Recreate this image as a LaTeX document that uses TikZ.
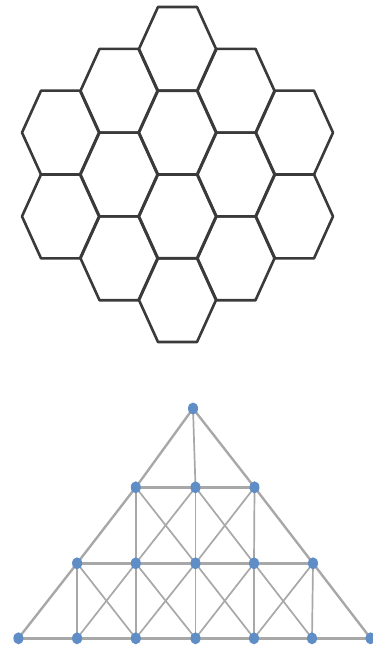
\documentclass[tikz,border=0pt]{standalone}
\usepackage{tikz}
\usetikzlibrary{shapes.geometric}
\definecolor{hexline}{HTML}{3A3A3A}
\definecolor{vblue}{HTML}{5F8DC6}
\definecolor{eline}{HTML}{A8A8A8}
\tikzset{
  hexcell/.style={draw=hexline, line width=2.6pt, line join=round},
  vtx/.style={ellipse, fill=vblue, inner sep=0pt, minimum width=10pt, minimum height=12pt, draw=none},
  gedge/.style={draw=eline, line width=2.4pt},
  gthin/.style={draw=eline, line width=1.7pt}
}
\newcommand{\hexat}[2]{%
  \draw[hexcell] (#1-38.5,#2) -- (#1-19.5,#2-41.9) -- (#1+19.5,#2-41.9) -- (#1+38.5,#2) -- (#1+19.5,#2+41.9) -- (#1-19.5,#2+41.9) -- cycle;}
\begin{document}
\begin{tikzpicture}[x=1pt,y=-1pt]
\useasboundingbox (0,0) rectangle (372,652);
% hexagon cluster
\foreach \yy in {132.6,216.4} {\hexat{60.5}{\yy}}
\foreach \yy in {90.8,174.5,258.3} {\hexat{119}{\yy}}
\foreach \yy in {48.9,132.6,216.4,300.1} {\hexat{177.5}{\yy}}
\foreach \yy in {90.8,174.5,258.3} {\hexat{236}{\yy}}
\foreach \yy in {132.6,216.4} {\hexat{294.5}{\yy}}
% graph node positions
\coordinate (t) at (193,408.5);
\coordinate (b1) at (135.8,487.3);
\coordinate (b2) at (195.5,487.3);
\coordinate (b3) at (254.5,487.3);
\coordinate (c1) at (77.1,563.3);
\coordinate (c2) at (135.8,563.3);
\coordinate (c3) at (195.5,563.3);
\coordinate (c4) at (254,563.3);
\coordinate (c5) at (313,563.3);
\coordinate (d1) at (18.4,638.3);
\coordinate (d2) at (77.1,638.3);
\coordinate (d3) at (135.8,638.3);
\coordinate (d4) at (195.5,638.3);
\coordinate (d5) at (254,638.3);
\coordinate (d6) at (312,638.3);
\coordinate (d7) at (370.6,638.3);
% edges
\path[gedge] (t) -- (b1) -- (c1) -- (d1);
\path[gedge] (t) -- (b3) -- (c5) -- (d7);
\path[gedge] (b1) -- (b2) -- (b3);
\path[gedge] (c1) -- (c2) -- (c3) -- (c4) -- (c5);
\path[gedge] (d1) -- (d2) -- (d3) -- (d4) -- (d5) -- (d6) -- (d7);
\path[gthin] (t) -- (b2);
\path[gthin] (b1) -- (c2);
\path[gthin] (b2) -- (c3);
\path[gthin] (b3) -- (c4);
\path[gthin] (b1) -- (c3);
\path[gthin] (b2) -- (c2);
\path[gthin] (b2) -- (c4);
\path[gthin] (b3) -- (c3);
\path[gthin] (c1) -- (d2);
\path[gthin] (c2) -- (d3);
\path[gthin] (c3) -- (d4);
\path[gthin] (c4) -- (d5);
\path[gthin] (c5) -- (d6);
\path[gthin] (c1) -- (d3);
\path[gthin] (c2) -- (d2);
\path[gthin] (c2) -- (d4);
\path[gthin] (c3) -- (d3);
\path[gthin] (c3) -- (d5);
\path[gthin] (c4) -- (d4);
\path[gthin] (c4) -- (d6);
\path[gthin] (c5) -- (d5);
% vertices on top
\foreach \n in {t,b1,b2,b3,c1,c2,c3,c4,c5,d1,d2,d3,d4,d5,d6,d7} {\node[vtx] (v\n) at (\n) {};}
\end{tikzpicture}
\end{document}
